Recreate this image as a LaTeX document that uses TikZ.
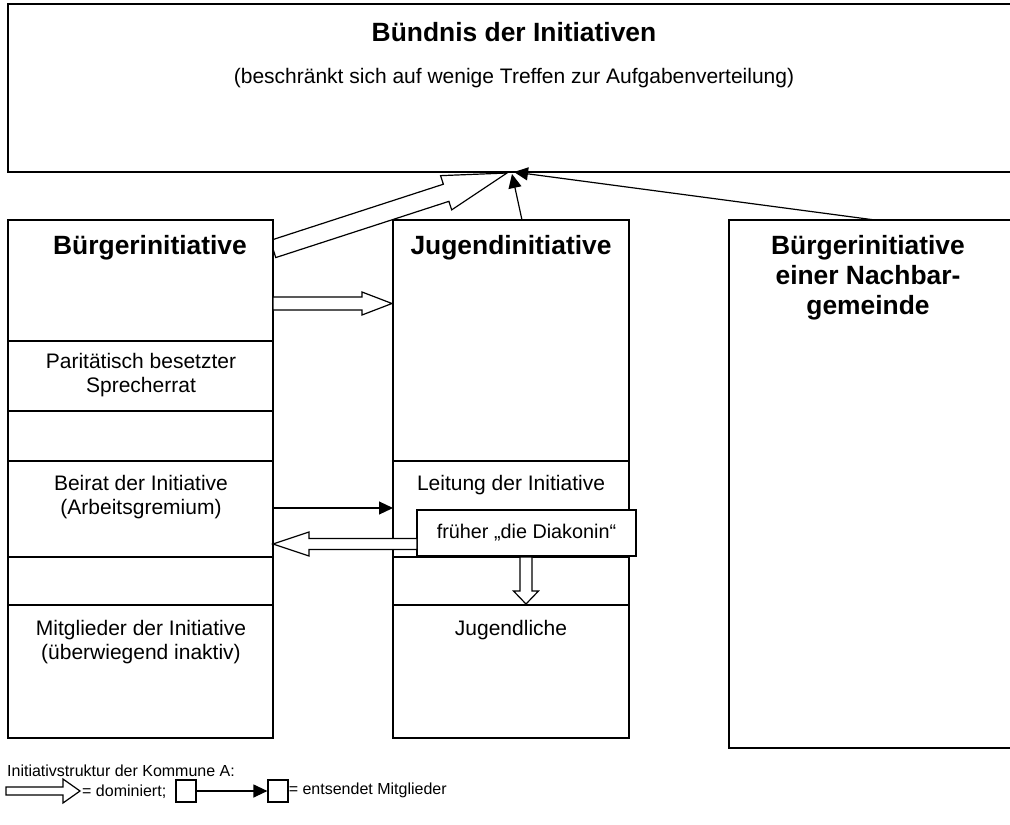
\documentclass[tikz,border=0pt]{standalone}
\usepackage{fontspec}
\setmainfont{Liberation Sans}
\usetikzlibrary{arrows.meta,calc}
\tikzset{
  frame/.style={draw, fill=white, line width=1.4pt},
  sep/.style={line width=1.4pt},
  hollow/.style={draw, fill=white, line width=1.2pt, line join=miter},
  sends/.style={line width=1.2pt, -{Triangle[length=14pt,width=13pt]}},
  title/.style={font=\fontsize{26.4}{30}\selectfont\bfseries, align=center, inner sep=0pt},
  body/.style={font=\fontsize{21}{24.5}\selectfont, align=center, inner sep=0pt},
  small/.style={font=\fontsize{19.8}{22}\selectfont, inner sep=0pt},
  tiny/.style={font=\fontsize{16}{18}\selectfont, inner sep=0pt}
}
% start, end, shaft half width, head half width, head length
\newcommand\hollowarrow[5]{%
  \coordinate (hb) at ($(#2)!#5!(#1)$);
  \draw[hollow] ($(#1)!#3!90:(#2)$) -- ($(hb)!#3!90:(#2)$) -- ($(hb)!#4!90:(#2)$)
    -- (#2) -- ($(hb)!#4!-90:(#2)$) -- ($(hb)!#3!-90:(#2)$) -- ($(#1)!#3!-90:(#2)$) -- cycle;}
\begin{document}
\begin{tikzpicture}[x=1pt,y=-1pt]
\useasboundingbox (0,0) rectangle (1010,825);
% top box
\draw[frame] (8,4) rectangle (1030,172);
\node[title] (bt) at (514,32) {Bündnis der Initiativen};
\node[body] (bs) at (514,78) {(beschränkt sich auf wenige Treffen zur Aufgabenverteilung)};
% connector coordinates
\coordinate (d1s) at (273,249);
\coordinate (d1e) at (507,173);
\coordinate (h1s) at (273,303.5);
\coordinate (h1e) at (392,303.5);
\coordinate (jtop) at (522,220);
\coordinate (ntop) at (875,220);
\coordinate (tipj) at (512,174);
\coordinate (tipn) at (514,172);
\hollowarrow{d1s}{d1e}{9pt}{18pt}{64pt}
% columns
\draw[frame] (8,220) rectangle (273,738);
\draw[frame] (393,220) rectangle (629,738);
\draw[frame] (729,220) rectangle (1030,748);
\draw[sep] (8,341) -- (273,341);
\draw[sep] (8,411) -- (273,411);
\draw[sep] (8,461) -- (273,461);
\draw[sep] (8,557) -- (273,557);
\draw[sep] (8,605) -- (273,605);
\draw[sep] (393,461) -- (629,461);
\draw[sep] (393,557) -- (629,557);
\draw[sep] (393,605) -- (629,605);
% texts
\node[title] (bi) at (150,248) {Bürgerinitiative};
\node[body] (spr) at (141,375) {Paritätisch besetzter\\Sprecherrat};
\node[body] (bei) at (141,497) {Beirat der Initiative\\(Arbeitsgremium)};
\node[body] (mit) at (141,642) {Mitglieder der Initiative\\(überwiegend inaktiv)};
\node[title] (ji) at (511,248) {Jugendinitiative};
\node[body] (lei) at (511,485) {Leitung der Initiative};
\node[body] (jug) at (511,630) {Jugendliche};
\node[title] (nb) at (868,278) {Bürgerinitiative\\einer Nachbar-\\gemeinde};
% Diakonin box
\node[frame, line width=1.2pt, minimum width=219pt, minimum height=46pt, inner sep=0pt] (dia) at (526.5,533) {};
\node[small] (diat) at (dia.center) {früher „die Diakonin“};
% arrows
\coordinate (l1s) at (417,544);
\coordinate (l1e) at (273,544);
\coordinate (v1s) at (526,557);
\coordinate (v1e) at (526,604);
\coordinate (b1s) at (273,508);
\coordinate (b1e) at (393,508);
\hollowarrow{h1s}{h1e}{6.5pt}{11.5pt}{30pt}
\hollowarrow{l1s}{l1e}{5.5pt}{12pt}{36pt}
\hollowarrow{v1s}{v1e}{6pt}{12.5pt}{13pt}
\draw[sends] (b1s) -- (b1e);
\draw[sends] (jtop) -- (tipj);
\draw[sends] (ntop) -- (tipn);
% legend
\node[tiny, anchor=west] (cap) at (7,771) {Initiativstruktur der Kommune A:};
\coordinate (la1) at (6,791);
\coordinate (la2) at (80,791);
\hollowarrow{la1}{la2}{4pt}{12pt}{17pt}
\node[tiny, anchor=west] (ldom) at (82,792) {= dominiert;};
\node[draw, line width=1.2pt, minimum width=20pt, minimum height=22pt, inner sep=0pt] (sq1) at (186,791) {};
\node[draw, line width=1.2pt, minimum width=20pt, minimum height=22pt, inner sep=0pt] (sq2) at (278,791) {};
\draw[sends] (sq1) -- (sq2);
\node[tiny, anchor=west] (lent) at ([yshift=1pt]sq2.east) {= entsendet Mitglieder};
\end{tikzpicture}
\end{document}
